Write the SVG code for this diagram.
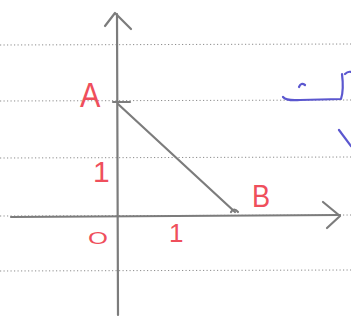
<svg xmlns="http://www.w3.org/2000/svg" width="351" height="323" viewBox="0 0 351 323">
<style>
.rule{stroke:#8c8c8c;stroke-width:1;stroke-dasharray:1.2 2.3;fill:none}
.axis{stroke:#7c7c7c;stroke-width:2.2;fill:none;stroke-linecap:round;stroke-linejoin:round}
.lbl{fill:#ef4f5c;font-family:"Liberation Sans",Arial,sans-serif}
.ink{stroke:#5b57cf;stroke-width:2.2;fill:none;stroke-linecap:round;stroke-linejoin:round}
</style>
<rect width="351" height="323" fill="#ffffff"/>
<g id="paper-lines">
<line class="rule" x1="0" y1="45" x2="351" y2="44"/>
<line class="rule" x1="0" y1="101" x2="351" y2="100"/>
<line class="rule" x1="0" y1="158" x2="351" y2="157"/>
<line class="rule" x1="0" y1="216" x2="351" y2="215"/>
<line class="rule" x1="0" y1="271" x2="351" y2="270"/>
</g>
<g id="axes">
<line class="axis" x1="117" y1="14" x2="118" y2="315"/>
<polyline class="axis" points="105,26 115,13 131,29"/>
<line class="axis" x1="11" y1="217" x2="340" y2="215"/>
<polyline class="axis" points="323,202 340,216 327,228"/>
</g>
<g id="segment">
<line class="axis" x1="118" y1="104" x2="235" y2="212" stroke-width="1.8"/>
<line class="axis" x1="113" y1="102" x2="130" y2="102" stroke-width="3"/>
<path class="axis" d="M231,212 Q234,207 238,212" stroke-width="1.5"/>
</g>
<g id="labels">
<text class="lbl" x="80" y="107" font-size="36" transform="translate(80 107) scale(0.85 1) translate(-80 -107)">A</text>
<text class="lbl" x="252" y="207" font-size="32" transform="translate(252 207) scale(0.85 1) translate(-252 -207)">B</text>
<text class="lbl" x="93" y="182" font-size="30">1</text>
<text class="lbl" x="169" y="242" font-size="26">1</text>
<text class="lbl" x="88" y="244" font-size="16" transform="translate(88 244) scale(1.6 1) translate(-88 -244)">O</text>
</g>
<g id="scribble">
<path class="ink" d="M283,97 Q286,101 300,100 L341,99 Q344,90 342,74"/>
<path class="ink" d="M299,87 Q301,82 305,85"/>
<path class="ink" d="M345,74 Q348,71 351,72"/>
<path class="ink" d="M339,130 L351,146"/>
</g>
</svg>
